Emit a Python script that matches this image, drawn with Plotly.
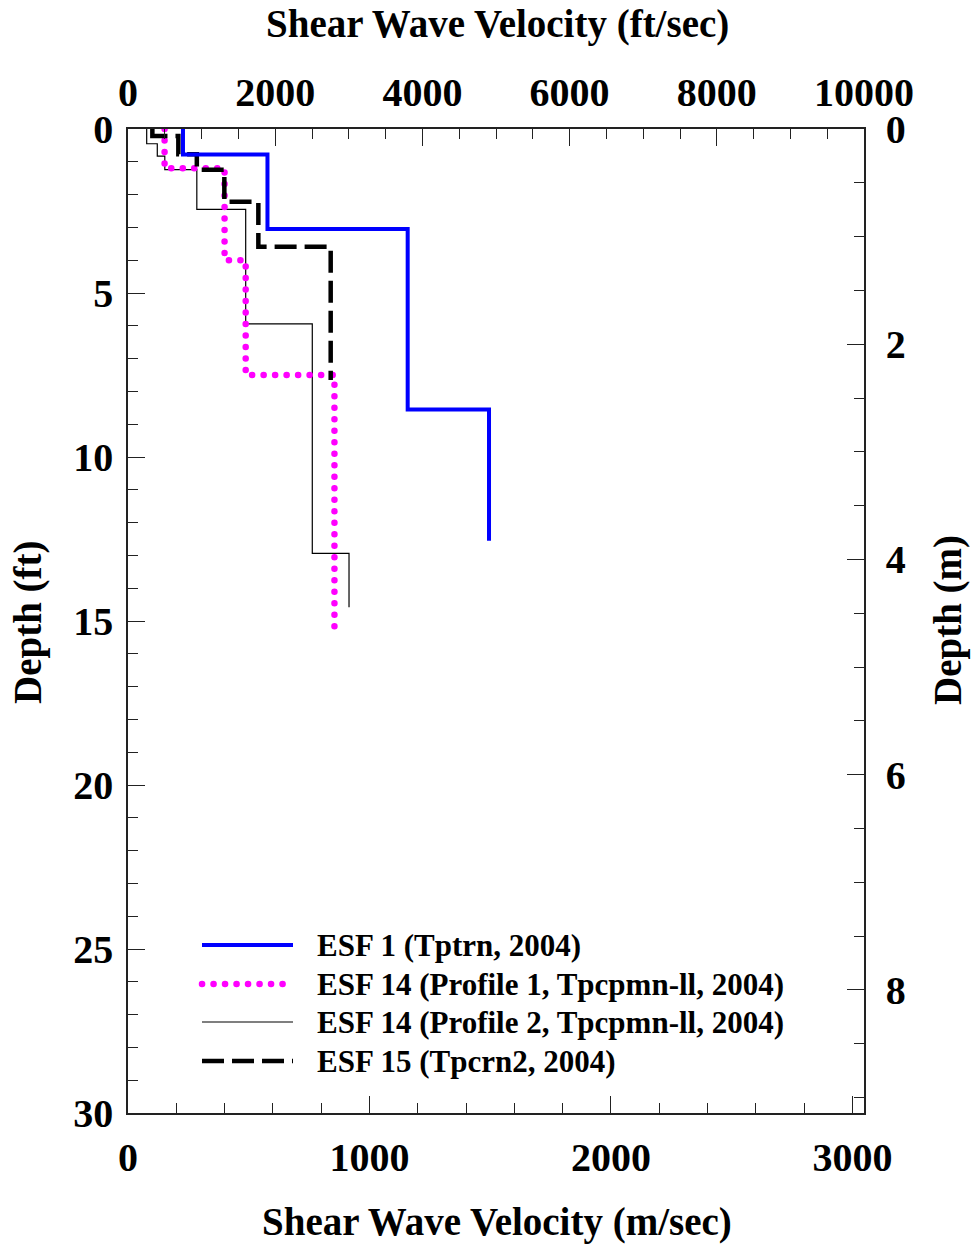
import plotly.graph_objects as go

# ---------------- data (velocity in ft/sec, depth in ft) ----------------
series_names = [
    "ESF 1 (Tptrn, 2004)",
    "ESF 14 (Profile 1, Tpcpmn-ll, 2004)",
    "ESF 14 (Profile 2, Tpcpmn-ll, 2004)",
    "ESF 15 (Tpcrn2, 2004)",
]

# layer velocities (ft/sec) and layer boundaries (ft, top of first layer .. bottom of last)
esf1_vel = [747, 1895, 3800, 4905]
esf1_depth = [0, 0.78, 3.05, 8.55, 12.55]

esf14p1_vel = [497, 1312, 1599, 2805]
esf14p1_depth = [0, 1.2, 4.0, 7.5, 15.2]

esf14p2_vel = [254, 398, 500, 935, 1599, 2504, 3003]
esf14p2_depth = [0, 0.45, 0.83, 1.24, 2.45, 5.94, 12.94, 14.58]

esf15_vel = [331, 684, 935, 1309, 1771, 2754]
esf15_depth = [0, 0.21, 0.77, 1.24, 2.22, 3.59, 7.65]

top_ticks = [0, 2000, 4000, 6000, 8000, 10000]      # ft/sec
bottom_ticks = [0, 1000, 2000, 3000]                 # m/sec
left_ticks = [0, 5, 10, 15, 20, 25, 30]              # ft
right_ticks = [0, 2, 4, 6, 8]                        # m

FT_TO_M = 0.3048
VMAX_FT = 10000
DMAX_FT = 30

# ---------------- styles ----------------
FONT = "Liberation Serif"
styles = {
    series_names[0]: dict(color="#0000FF", width=4, dash="solid"),
    series_names[1]: dict(color="#FF00FF", width=6.5, dash="0.1px,11.4px"),
    series_names[2]: dict(color="#000000", width=1.2, dash="solid"),
    series_names[3]: dict(color="#000000", width=4.5, dash="22px,8px"),
}
data = {
    series_names[0]: (esf1_vel, esf1_depth),
    series_names[1]: (esf14p1_vel, esf14p1_depth),
    series_names[2]: (esf14p2_vel, esf14p2_depth),
    series_names[3]: (esf15_vel, esf15_depth),
}
draw_order = [series_names[2], series_names[1], series_names[3], series_names[0]]

fig = go.Figure()
for name in draw_order:
    vel, dep = data[name]
    st = styles[name]
    fig.add_trace(go.Scatter(
        x=vel + [vel[-1]], y=dep, mode="lines", name=name,
        line=dict(shape="vh", color=st["color"], width=st["width"], dash=st["dash"]),
        xaxis="x2", yaxis="y", showlegend=False, hoverinfo="skip",
    ))

# empty traces so the metric axes (bottom m/sec, right m) are created
fig.add_trace(go.Scatter(x=[], y=[], xaxis="x", yaxis="y2", mode="lines",
                         showlegend=False, hoverinfo="skip"))
fig.add_trace(go.Scatter(x=[], y=[], xaxis="x", yaxis="y", mode="lines",
                         showlegend=False, hoverinfo="skip"))

W, H = 972, 1245
L, R, T, B = 128, 864, 129, 1113


def px_x(px):
    return (px - L) / (R - L)


def px_y(py):
    return (B - py) / (B - T)


tickfont = dict(family=FONT, size=40, color="black", weight="bold")
axis_common = dict(
    showgrid=False, zeroline=False, showline=True, linecolor="#222", linewidth=1.5,
    ticks="inside", ticklen=17, tickwidth=1.3, tickcolor="#222", tickfont=tickfont,
)

fig.update_layout(
    width=W, height=H,
    margin=dict(l=L, r=W - R, t=T, b=H - B, pad=0),
    paper_bgcolor="white", plot_bgcolor="white",
    showlegend=False,
    xaxis=dict(
        range=[0, VMAX_FT * FT_TO_M], side="bottom", anchor="y",
        tickmode="array", tickvals=bottom_ticks, ticktext=[str(t) for t in bottom_ticks],
        minor=dict(dtick=200, tick0=0, ticks="inside", ticklen=10, tickwidth=1.2, tickcolor="#222"),
        ticklabelstandoff=8,
        **axis_common,
    ),
    xaxis2=dict(
        range=[0, VMAX_FT], side="top", anchor="y", overlaying="x",
        tickmode="array", tickvals=top_ticks, ticktext=[str(t) for t in top_ticks],
        minor=dict(dtick=500, tick0=0, ticks="inside", ticklen=10, tickwidth=1.2, tickcolor="#222"),
        ticklabelstandoff=5,
        **axis_common,
    ),
    yaxis=dict(
        range=[DMAX_FT, 0], side="left", anchor="x",
        tickmode="array", tickvals=left_ticks, ticktext=[str(t) for t in left_ticks],
        minor=dict(dtick=1, tick0=0, ticks="inside", ticklen=10, tickwidth=1.2, tickcolor="#222"),
        ticklabelstandoff=5,
        **axis_common,
    ),
    yaxis2=dict(
        range=[DMAX_FT * FT_TO_M, 0], side="right", anchor="x", overlaying="y",
        tickmode="array", tickvals=right_ticks, ticktext=[str(t) for t in right_ticks],
        minor=dict(dtick=0.5, tick0=0, ticks="inside", ticklen=10, tickwidth=1.2, tickcolor="#222"),
        ticklabelstandoff=12,
        **axis_common,
    ),
)

titlefont = dict(family=FONT, size=39, color="black", weight="bold")
annotations = [
    dict(text="Shear Wave Velocity (ft/sec)", x=px_x(497), y=px_y(24)),
    dict(text="Shear Wave Velocity (m/sec)", x=px_x(497), y=px_y(1222)),
    dict(text="Depth (ft)", x=px_x(28), y=px_y(622), textangle=-90),
    dict(text="Depth (m)", x=px_x(948), y=px_y(620), textangle=-90),
]
for a in annotations:
    fig.add_annotation(xref="paper", yref="paper", showarrow=False,
                       xanchor="center", yanchor="middle", font=titlefont, **a)

# ---------------- custom legend ----------------
legend_rows_y = [945, 984, 1022, 1061]
legendfont = dict(family=FONT, size=31, color="black", weight="bold")
for name, ry in zip(series_names, legend_rows_y):
    st = styles[name]
    fig.add_shape(type="line", xref="paper", yref="paper",
                  x0=px_x(202), x1=px_x(293), y0=px_y(ry), y1=px_y(ry),
                  line=dict(color=st["color"], width=st["width"], dash=st["dash"]))
    fig.add_annotation(xref="paper", yref="paper", x=px_x(315), y=px_y(ry),
                       text=name, showarrow=False, xanchor="left", yanchor="middle",
                       font=legendfont)

post = """
var gd = document.getElementById('{plot_id}');
gd.querySelectorAll('path').forEach(function(p){
  var s = (p.style.stroke || '').replace(/\\s/g,'');
  if (s === 'rgb(255,0,255)') { p.style.strokeLinecap = 'round'; }
});
"""

fig.write_html("out.html", post_script=post)
